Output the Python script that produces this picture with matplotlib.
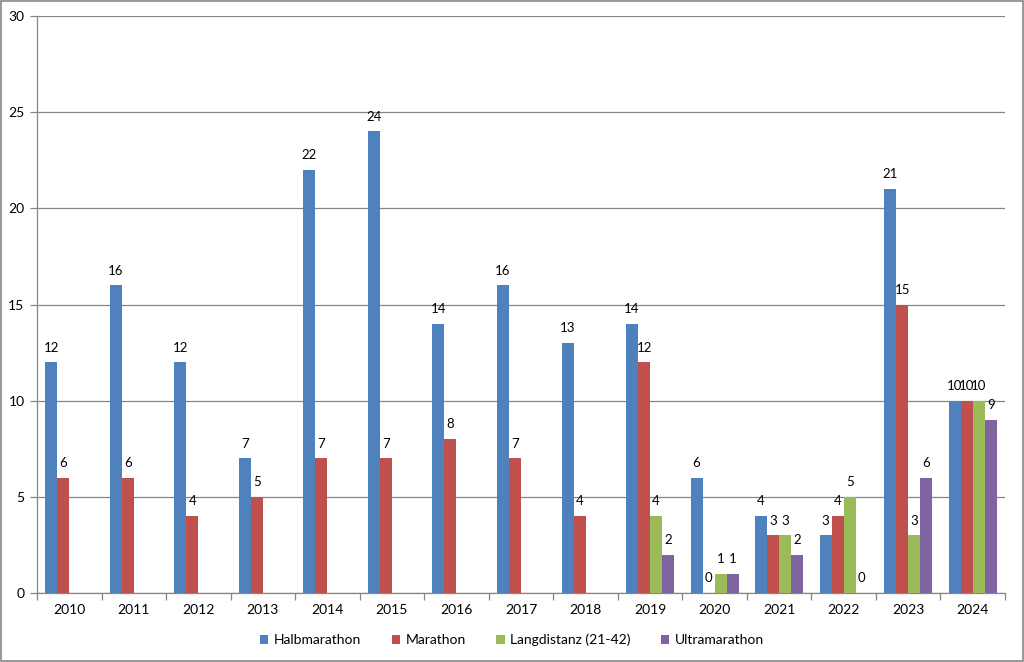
import matplotlib
matplotlib.use("Agg")
import matplotlib.pyplot as plt
import numpy as np

plt.rcParams['font.family'] = ['Lato', 'DejaVu Sans']

years = ['2010', '2011', '2012', '2013', '2014', '2015', '2016', '2017',
         '2018', '2019', '2020', '2021', '2022', '2023', '2024']
nan = np.nan
halbmarathon = [12, 16, 12, 7, 22, 24, 14, 16, 13, 14, 6, 4, 3, 21, 10]
marathon = [6, 6, 4, 5, 7, 7, 8, 7, 4, 12, 0, 3, 4, 15, 10]
langdistanz = [nan, nan, nan, nan, nan, nan, nan, nan, nan, 4, 1, 3, 5, 3, 10]
ultramarathon = [nan, nan, nan, nan, nan, nan, nan, nan, nan, 2, 1, 2, 0, 6, 9]

series = [
    ('Halbmarathon', halbmarathon, '#4F81BD'),
    ('Marathon', marathon, '#C0504D'),
    ('Langdistanz (21-42)', langdistanz, '#9BBB59'),
    ('Ultramarathon', ultramarathon, '#8064A2'),
]

fig = plt.figure(figsize=(10.24, 6.62), dpi=100)
ax = fig.add_axes([37/1024, 1-593/662, 968/1024, 577/662])

n = len(years)
x = np.arange(n)
bw = 0.1858
offsets = (np.arange(4) - 1.5) * bw

for i, (name, vals, col) in enumerate(series):
    v = np.array(vals, dtype=float)
    bars = ax.bar(x + offsets[i], v, width=bw, color=col, label=name, zorder=3)
    for xi, vi in zip(x + offsets[i], v):
        if not np.isnan(vi):
            ax.text(xi, vi + 0.45, f'{int(vi)}', ha='center', va='bottom',
                    fontsize=9.5, color='black')

ax.set_xlim(-0.5, n - 0.5)
ax.set_ylim(0, 30)
ax.set_yticks(range(0, 31, 5))
ax.yaxis.grid(True, color='#868686', linewidth=0.9, zorder=0)
ax.set_axisbelow(True)

ax.set_xticks(x)
ax.set_xticklabels(years, fontsize=10)
ax.set_xticks(np.arange(-0.5, n, 1), minor=True)
ax.tick_params(axis='x', which='major', length=0, pad=8)
ax.tick_params(axis='x', which='minor', length=5, color='#868686', width=0.9)
ax.tick_params(axis='y', length=5, color='#868686', width=0.9, labelsize=10, pad=4)

for side in ['top', 'right']:
    ax.spines[side].set_visible(False)
for side in ['left', 'bottom']:
    ax.spines[side].set_color('#868686')
    ax.spines[side].set_linewidth(0.9)

leg = fig.legend(loc='center', bbox_to_anchor=(0.5, 1-640/662), ncol=4,
                 frameon=False, fontsize=10, handlelength=0.6, handleheight=0.6,
                 handletextpad=0.4, columnspacing=2.2)

border = plt.Rectangle((0.001, 0.001), 0.998, 0.998, transform=fig.transFigure,
                       fill=False, edgecolor='#868686', linewidth=1.2)
fig.add_artist(border)

fig.savefig('out.png', dpi=100)
